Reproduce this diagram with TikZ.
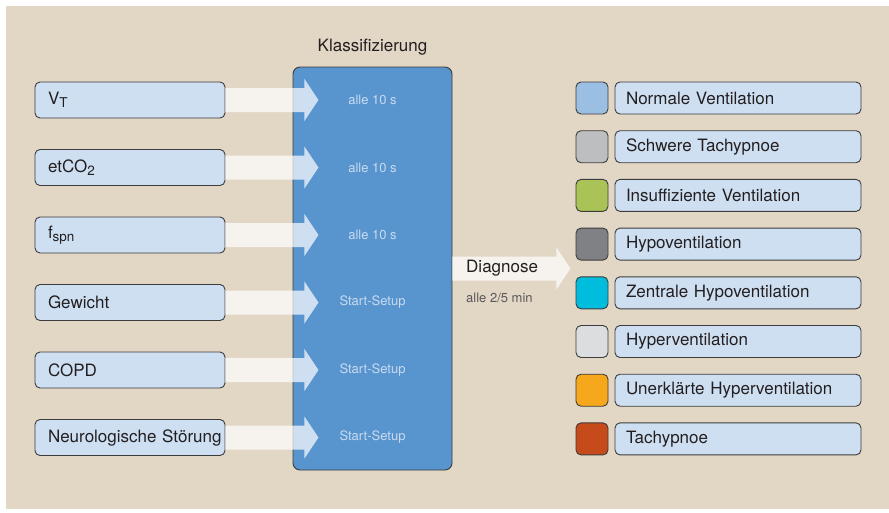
\documentclass[tikz,border=0pt]{standalone}
\usepackage{fontspec}
\setmainfont{TeX Gyre Heros}
\usetikzlibrary{calc}
\definecolor{bgc}{HTML}{E2D6C5}
\definecolor{lblc}{HTML}{CFDFF2}
\definecolor{bluec}{HTML}{5894CE}
\definecolor{linec}{HTML}{3C3C3C}
\definecolor{txtc}{HTML}{231F20}
\definecolor{alletxt}{HTML}{C9DBF0}
\definecolor{minc}{HTML}{5A5A5A}
\definecolor{c1}{HTML}{9BBEE3}
\definecolor{c2}{HTML}{BDBEC0}
\definecolor{c3}{HTML}{A9C356}
\definecolor{c4}{HTML}{808184}
\definecolor{c5}{HTML}{00BCDD}
\definecolor{c6}{HTML}{DCDDDE}
\definecolor{c7}{HTML}{F7A71C}
\definecolor{c8}{HTML}{C64B1A}
\newcommand{\mysub}[1]{\raisebox{-3.5pt}{\fontsize{13.5}{15}\selectfont #1}}
\newcommand{\myarrow}[3]{%
  \fill[arrowfill] ($(#1.east)+(0,-12)$) -- ($(#1.east)+(#2,-12)$) -- ($(#1.east)+(#2,-21)$)
    -- ($(#1.east)+(#3,0)$) -- ($(#1.east)+(#2,21)$) -- ($(#1.east)+(#2,12)$) -- ($(#1.east)+(0,12)$) -- cycle;}
\tikzset{
  inbox/.style={draw=linec, line width=0.9pt, fill=lblc, rounded corners=5pt, minimum height=36pt,
    text width=164pt, inner xsep=13pt, inner ysep=0pt, align=left, text=txtc,
    font=\fontsize{17}{20}\selectfont},
  outbox/.style={draw=linec, line width=0.9pt, fill=lblc, rounded corners=5pt, minimum height=32pt,
    text width=224pt, inner xsep=11pt, inner ysep=0pt, align=left, text=txtc,
    font=\fontsize{17}{20}\selectfont},
  sq/.style={draw=linec, line width=0.9pt, fill=#1, rounded corners=5pt, minimum width=32pt,
    minimum height=32pt, inner sep=0pt},
  classbox/.style={draw=linec, line width=0.9pt, fill=bluec, rounded corners=7pt, minimum width=159pt,
    minimum height=403pt, inner sep=0pt},
  alle/.style={text=alletxt, font=\fontsize{13}{15}\selectfont, inner sep=0pt},
  arrowfill/.style={fill=white, fill opacity=0.7},
}
\begin{document}
\begin{tikzpicture}[x=1pt,y=-1pt]
\useasboundingbox (0,0) rectangle (889,512);
\fill[bgc] (6,6) rectangle (889,509);

% inputs
\node[inbox] (vt) at (130,100) {\mbox{V\mysub{T}}};
\node[inbox] (etco) at (130,167.5) {\mbox{etCO\mysub{2}}};
\node[inbox] (fspn) at (130,235) {\mbox{f\mysub{spn}}};
\node[inbox] (gew) at (130,302.5) {\mbox{Gewicht}};
\node[inbox] (copd) at (130,370) {\mbox{COPD}};
\node[inbox] (neuro) at (130,437.5) {\mbox{Neurologische Störung}};

% classification box
\node[classbox] (klass) at (372.5,268.5) {};
\node[text=txtc, font=\fontsize{17}{20}\selectfont] (klasst) at (372.5,47) {Klassifizierung};
\node[alle] (a1) at (372.5,100) {alle 10 s};
\node[alle] (a2) at (372.5,167.5) {alle 10 s};
\node[alle] (a3) at (372.5,235) {alle 10 s};
\node[alle] (a4) at (372.5,302.5) {Start-Setup};
\node[alle] (a5) at (372.5,370) {Start-Setup};
\node[alle] (a6) at (372.5,437.5) {Start-Setup};

% input arrows
\myarrow{vt}{79}{93}
\myarrow{etco}{79}{93}
\myarrow{fspn}{79}{93}
\myarrow{gew}{79}{93}
\myarrow{copd}{79}{93}
\myarrow{neuro}{79}{93}

% diagnose arrow
\myarrow{klass}{104}{118}
\node[anchor=west, text=txtc, font=\fontsize{17}{20}\selectfont, inner sep=0pt] (diag) at (466,268) {Diagnose};
\node[anchor=west, text=minc, font=\fontsize{13}{15}\selectfont, inner sep=0pt] (min) at (466,298) {alle 2/5 min};

% outputs
\node[sq=c1] (s1) at (592,98) {};
\node[sq=c2] (s2) at (592,146.7) {};
\node[sq=c3] (s3) at (592,195.4) {};
\node[sq=c4] (s4) at (592,244.1) {};
\node[sq=c5] (s5) at (592,292.8) {};
\node[sq=c6] (s6) at (592,341.5) {};
\node[sq=c7] (s7) at (592,390.2) {};
\node[sq=c8] (s8) at (592,438.9) {};
\node[outbox] (o1) at (738,98) {Normale Ventilation};
\node[outbox] (o2) at (738,146.7) {Schwere Tachypnoe};
\node[outbox] (o3) at (738,195.4) {Insuffiziente Ventilation};
\node[outbox] (o4) at (738,244.1) {Hypoventilation};
\node[outbox] (o5) at (738,292.8) {Zentrale Hypoventilation};
\node[outbox] (o6) at (738,341.5) {Hyperventilation};
\node[outbox] (o7) at (738,390.2) {Unerklärte Hyperventilation};
\node[outbox] (o8) at (738,438.9) {Tachypnoe};
\end{tikzpicture}
\end{document}
